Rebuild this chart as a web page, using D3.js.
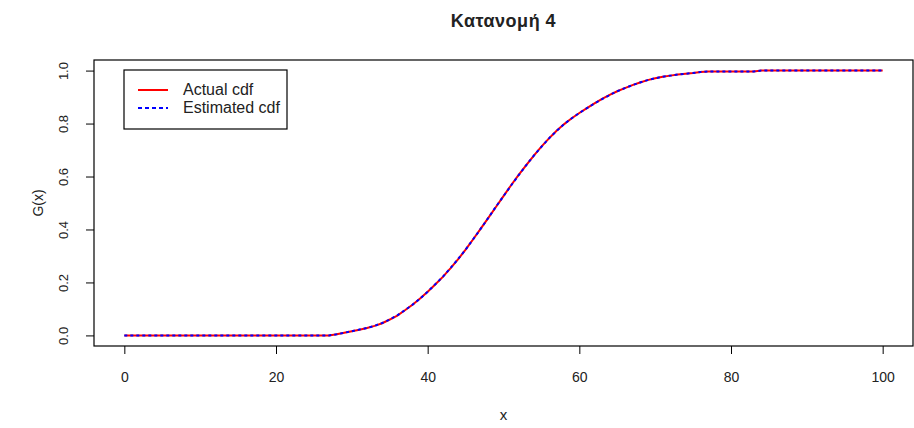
<!DOCTYPE html>
<html>
<head>
<meta charset="utf-8">
<script src="https://cdn.jsdelivr.net/npm/d3@7"></script>
<style>
  body { margin: 0; background: #fff; }
  svg { font-family: "Liberation Sans", Arial, sans-serif; }
  .tick text { fill: #222; }
  .tick line { stroke: #000; }
</style>
</head>
<body>
<div id="chart"></div>
<script>
// cdf values at x = 0..100
const xs = d3.range(0, 101);
const actualCdf = [
  0, 0, 0, 0, 0, 0, 0, 0, 0, 0,
  0, 0, 0, 0, 0, 0, 0, 0, 0, 0,
  0, 0, 0, 0, 0, 0, 0, 0, 0.004, 0.010,
  0.016, 0.021, 0.028, 0.036, 0.046, 0.060, 0.075, 0.095, 0.116, 0.139,
  0.165, 0.192, 0.221, 0.253, 0.287, 0.324, 0.363, 0.403, 0.444, 0.485,
  0.526, 0.567, 0.606, 0.643, 0.679, 0.713, 0.744, 0.773, 0.798, 0.820,
  0.840, 0.858, 0.876, 0.893, 0.908, 0.922, 0.934, 0.945, 0.955, 0.964,
  0.971, 0.977, 0.981, 0.985, 0.988, 0.991, 0.995, 0.997, 0.997, 0.997,
  0.997, 0.997, 0.997, 0.997, 1, 1, 1, 1, 1, 1,
  1, 1, 1, 1, 1, 1, 1, 1, 1, 1,
  1
];
const estimatedCdf = [
  0, 0, 0, 0, 0, 0, 0, 0, 0, 0,
  0, 0, 0, 0, 0, 0, 0, 0, 0, 0,
  0, 0, 0, 0, 0, 0, 0, 0, 0.004, 0.010,
  0.016, 0.022, 0.028, 0.036, 0.047, 0.060, 0.076, 0.095, 0.116, 0.139,
  0.165, 0.193, 0.221, 0.254, 0.288, 0.324, 0.363, 0.403, 0.444, 0.486,
  0.526, 0.566, 0.605, 0.643, 0.679, 0.712, 0.744, 0.772, 0.798, 0.820,
  0.840, 0.858, 0.876, 0.892, 0.908, 0.922, 0.934, 0.945, 0.955, 0.964,
  0.971, 0.977, 0.981, 0.985, 0.988, 0.991, 0.995, 0.997, 0.997, 0.997,
  0.997, 0.997, 0.997, 0.997, 1, 1, 1, 1, 1, 1,
  1, 1, 1, 1, 1, 1, 1, 1, 1, 1,
  1
];
const xTicks = [0, 20, 40, 60, 80, 100];
const yTicks = [0, 0.2, 0.4, 0.6, 0.8, 1.0];
const legendLabels = ["Actual cdf", "Estimated cdf"];

const W = 914, H = 428;
const box = { left: 94, right: 913, top: 60, bottom: 346 };

const svg = d3.select("#chart").append("svg")
    .attr("width", W)
    .attr("height", H);

// R style: 4% padding on each side
const x = d3.scaleLinear().domain([-4, 104]).range([box.left, box.right]);
const y = d3.scaleLinear().domain([-0.04, 1.04]).range([box.bottom, box.top]);

const line = d3.line()
    .x((d, i) => x(xs[i]))
    .y(d => y(d));

svg.append("path")
    .datum(actualCdf)
    .attr("fill", "none")
    .attr("stroke", "#ff0000")
    .attr("stroke-width", 2)
    .attr("d", line);

svg.append("path")
    .datum(estimatedCdf)
    .attr("fill", "none")
    .attr("stroke", "#0000ff")
    .attr("stroke-width", 2)
    .attr("stroke-dasharray", "3,3")
    .attr("d", line);

// box
svg.append("rect")
    .attr("x", box.left)
    .attr("y", box.top)
    .attr("width", box.right - box.left)
    .attr("height", box.bottom - box.top)
    .attr("fill", "none")
    .attr("stroke", "#000")
    .attr("stroke-width", 1.2);

// axes
const xAxis = svg.append("g")
    .attr("transform", `translate(0,${box.bottom})`)
    .call(d3.axisBottom(x).tickValues(xTicks).tickSize(8).tickPadding(18).tickFormat(d3.format("d")));
xAxis.select(".domain").remove();
xAxis.selectAll(".tick text").attr("font-size", 14);

const yAxis = svg.append("g")
    .attr("transform", `translate(${box.left},0)`)
    .call(d3.axisLeft(y).tickValues(yTicks).tickSize(8).tickFormat(d3.format(".1f")));
yAxis.select(".domain").remove();
yAxis.selectAll(".tick text")
    .attr("font-size", 13)
    .attr("x", 0)
    .attr("dy", 0)
    .attr("text-anchor", "middle")
    .attr("transform", "translate(-31,0) rotate(-90) translate(0,5)");

// titles
svg.append("text")
    .attr("x", (box.left + box.right) / 2)
    .attr("y", 27)
    .attr("text-anchor", "middle")
    .attr("font-weight", "bold")
    .attr("font-size", 18)
    .attr("letter-spacing", 0.5)
    .attr("fill", "#222")
    .text("Κατανομή 4");

svg.append("text")
    .attr("x", (box.left + box.right) / 2)
    .attr("y", 420)
    .attr("text-anchor", "middle")
    .attr("font-size", 15)
    .attr("fill", "#222")
    .text("x");

svg.append("text")
    .attr("transform", `translate(43,${(box.top + box.bottom) / 2}) rotate(-90)`)
    .attr("text-anchor", "middle")
    .attr("font-size", 14)
    .attr("fill", "#222")
    .text("G(x)");

// legend
const legend = svg.append("g").attr("transform", "translate(124,70)");
legend.append("rect")
    .attr("width", 163)
    .attr("height", 59)
    .attr("fill", "#fff")
    .attr("stroke", "#000")
    .attr("stroke-width", 1.2);

const legendColors = ["#ff0000", "#0000ff"];
const legendDash = [null, "4,3"];
legendLabels.forEach((lab, i) => {
    const ly = 20 + i * 18;
    legend.append("line")
        .attr("x1", 14).attr("x2", 44)
        .attr("y1", ly).attr("y2", ly)
        .attr("stroke", legendColors[i])
        .attr("stroke-width", 2)
        .attr("stroke-dasharray", legendDash[i]);
    legend.append("text")
        .attr("x", 59)
        .attr("y", ly + 5)
        .attr("font-size", 16)
        .attr("fill", "#222")
        .text(lab);
});
</script>
</body>
</html>
